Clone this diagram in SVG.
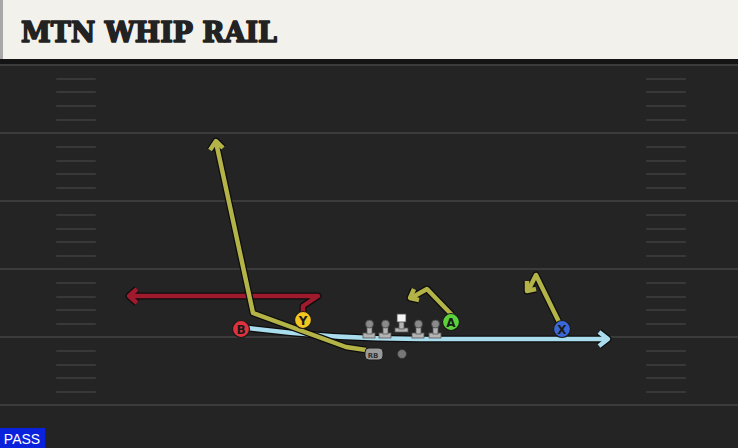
<svg xmlns="http://www.w3.org/2000/svg" width="738" height="448" viewBox="0 0 738 448">
<style>
.yl{stroke:#3b3b3b;stroke-width:2}
.hm{stroke:#383838;stroke-width:2;stroke-linecap:round}
.out{fill:none;stroke:#0d0d0d;stroke-width:7;stroke-linejoin:round;stroke-linecap:butt}
.rt{fill:none;stroke-width:4.5;stroke-linejoin:round;stroke-linecap:butt}
.pl{stroke:#1a1a1a;stroke-width:1.2}
.lt{font-family:"DejaVu Sans","Liberation Sans",sans-serif;font-weight:bold;font-size:12px;text-anchor:middle;fill:#1a1a1a}
.ol{fill:#b4b4b4;stroke:#555;stroke-width:0.8}
.hd{fill:#8a8a8a;stroke:#444;stroke-width:0.8}
</style>
<rect width="738" height="448" fill="#242424"/>
<rect x="0" y="59" width="738" height="6" fill="#141414"/>
<g id="field">
<line class="yl" x1="0" y1="65" x2="738" y2="65"/>
<line class="yl" x1="0" y1="133" x2="738" y2="133"/>
<line class="yl" x1="0" y1="201" x2="738" y2="201"/>
<line class="yl" x1="0" y1="269" x2="738" y2="269"/>
<line class="yl" x1="0" y1="337" x2="738" y2="337"/>
<line class="yl" x1="0" y1="405" x2="738" y2="405"/>
<g id="hashL">
<line class="hm" x1="57" y1="79" x2="95" y2="79"/><line class="hm" x1="57" y1="92" x2="95" y2="92"/><line class="hm" x1="57" y1="106" x2="95" y2="106"/><line class="hm" x1="57" y1="120" x2="95" y2="120"/>
<line class="hm" x1="57" y1="147" x2="95" y2="147"/><line class="hm" x1="57" y1="161" x2="95" y2="161"/><line class="hm" x1="57" y1="174" x2="95" y2="174"/><line class="hm" x1="57" y1="188" x2="95" y2="188"/>
<line class="hm" x1="57" y1="215" x2="95" y2="215"/><line class="hm" x1="57" y1="229" x2="95" y2="229"/><line class="hm" x1="57" y1="242" x2="95" y2="242"/><line class="hm" x1="57" y1="256" x2="95" y2="256"/>
<line class="hm" x1="57" y1="283" x2="95" y2="283"/><line class="hm" x1="57" y1="297" x2="95" y2="297"/><line class="hm" x1="57" y1="310" x2="95" y2="310"/><line class="hm" x1="57" y1="324" x2="95" y2="324"/>
<line class="hm" x1="57" y1="351" x2="95" y2="351"/><line class="hm" x1="57" y1="365" x2="95" y2="365"/><line class="hm" x1="57" y1="378" x2="95" y2="378"/><line class="hm" x1="57" y1="392" x2="95" y2="392"/>
</g>
<g id="hashR">
<line class="hm" x1="647" y1="79" x2="685" y2="79"/><line class="hm" x1="647" y1="92" x2="685" y2="92"/><line class="hm" x1="647" y1="106" x2="685" y2="106"/><line class="hm" x1="647" y1="120" x2="685" y2="120"/>
<line class="hm" x1="647" y1="147" x2="685" y2="147"/><line class="hm" x1="647" y1="161" x2="685" y2="161"/><line class="hm" x1="647" y1="174" x2="685" y2="174"/><line class="hm" x1="647" y1="188" x2="685" y2="188"/>
<line class="hm" x1="647" y1="215" x2="685" y2="215"/><line class="hm" x1="647" y1="229" x2="685" y2="229"/><line class="hm" x1="647" y1="242" x2="685" y2="242"/><line class="hm" x1="647" y1="256" x2="685" y2="256"/>
<line class="hm" x1="647" y1="283" x2="685" y2="283"/><line class="hm" x1="647" y1="297" x2="685" y2="297"/><line class="hm" x1="647" y1="310" x2="685" y2="310"/><line class="hm" x1="647" y1="324" x2="685" y2="324"/>
<line class="hm" x1="647" y1="351" x2="685" y2="351"/><line class="hm" x1="647" y1="365" x2="685" y2="365"/><line class="hm" x1="647" y1="378" x2="685" y2="378"/><line class="hm" x1="647" y1="392" x2="685" y2="392"/>
</g>
</g>
<g id="header">
<rect x="0" y="0" width="738" height="59" fill="#f3f1ec"/>
<rect x="0" y="0" width="3" height="59" fill="#a8a8a8"/>
<text x="21" y="42" font-family="'DejaVu Serif','Liberation Serif',serif" font-weight="bold" font-size="27" fill="#222" stroke="#222" stroke-width="1.6" stroke-linejoin="round" textLength="256" lengthAdjust="spacingAndGlyphs">MTN WHIP RAIL</text>
</g>
<g id="connectors">
<!-- blue B route -->
<path class="out" d="M248,328 Q330,339 420,339 L608,339"/>
<path class="out" d="M599,332 L608,339 L599,346"/>
<path class="rt" stroke="#a9dded" d="M248,328 Q330,339 420,339 L608,339"/>
<path class="rt" stroke="#a9dded" d="M599,332 L608,339 L599,346"/>
<!-- red Y route -->
<path class="out" d="M303,312 L303,306 L318,296 L129,296"/>
<path class="out" d="M137,289 L129,296 L137,303"/>
<path class="rt" stroke="#a01a2e" d="M303,312 L303,306 L318,296 L129,296"/>
<path class="rt" stroke="#a01a2e" d="M137,289 L129,296 L137,303"/>
<!-- RB route -->
<path class="out" d="M366,350 L346,347 L253,313 L216,142"/>
<path class="out" d="M210,150 L216,141 L223,148"/>
<path class="rt" stroke="#b3b348" d="M366,350 L346,347 L253,313 L216,142"/>
<path class="rt" stroke="#b3b348" d="M210,150 L216,141 L223,148"/>
<!-- A route -->
<path class="out" d="M452,315 L427,289 L411,298"/>
<path class="out" d="M414,289 L410,298 L419,300"/>
<path class="rt" stroke="#b3b348" d="M452,315 L427,289 L411,298"/>
<path class="rt" stroke="#b3b348" d="M414,289 L410,298 L419,300"/>
<!-- X route -->
<path class="out" d="M559,322 L536,275 L528,291"/>
<path class="out" d="M527,281 L527,291 L536,289"/>
<path class="rt" stroke="#b3b348" d="M559,322 L536,275 L528,291"/>
<path class="rt" stroke="#b3b348" d="M527,281 L527,291 L536,289"/>
</g>
<g id="line">
<g id="LT"><rect class="ol" x="363" y="333" width="12" height="5"/><rect class="ol" x="367" y="325" width="5" height="9"/><circle class="hd" cx="369.5" cy="324" r="4"/></g>
<g id="LG"><rect class="ol" x="379" y="333" width="12" height="5"/><rect class="ol" x="383" y="325" width="5" height="9"/><circle class="hd" cx="385.5" cy="324" r="4"/></g>
<g id="C"><rect class="ol" x="395" y="328" width="13" height="4"/><rect class="ol" x="399" y="321" width="5" height="8"/><rect x="397" y="314" width="9" height="8" fill="#f4f4f4" stroke="#444" stroke-width="0.8"/></g>
<g id="RG"><rect class="ol" x="412" y="333" width="12" height="5"/><rect class="ol" x="416" y="325" width="5" height="9"/><circle class="hd" cx="418.5" cy="324" r="4"/></g>
<g id="RT"><rect class="ol" x="429" y="333" width="12" height="5"/><rect class="ol" x="433" y="325" width="5" height="9"/><circle class="hd" cx="435.5" cy="324" r="4"/></g>
</g>
<g id="RB"><rect x="365" y="348" width="18" height="12" rx="4" fill="#9a9a9a" stroke="#1a1a1a" stroke-width="1"/><text x="373" y="357.5" font-family="'DejaVu Sans','Liberation Sans',sans-serif" font-weight="bold" font-size="7" fill="#333" text-anchor="middle">RB</text></g>
<g id="ball"><circle cx="402" cy="354" r="4.5" fill="#777" stroke="#333" stroke-width="0.8"/></g>
<g id="B"><circle class="pl" cx="241" cy="329" r="8.5" fill="#e0323c"/><text class="lt" x="241" y="333.5">B</text></g>
<g id="Y"><circle class="pl" cx="303" cy="320" r="8.5" fill="#f2c51f"/><text class="lt" x="303" y="324.5">Y</text></g>
<g id="A"><circle class="pl" cx="451" cy="322" r="8.5" fill="#5bd23a"/><text class="lt" x="451" y="326.5">A</text></g>
<g id="X"><circle class="pl" cx="562" cy="329" r="8.5" fill="#3a68d6"/><text class="lt" x="562" y="333.5">X</text></g>
<g id="pass"><rect x="0" y="428" width="45" height="20" fill="#0b22dc"/><text x="22" y="443.5" font-family="'Liberation Sans','DejaVu Sans',sans-serif" font-size="14" fill="#ffffff" text-anchor="middle">PASS</text></g>
</svg>
